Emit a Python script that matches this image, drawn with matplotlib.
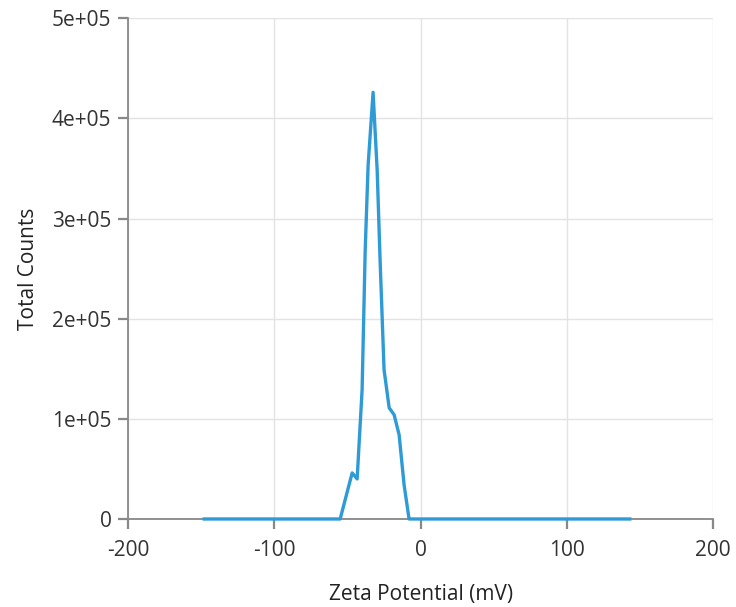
import matplotlib
matplotlib.use("Agg")
import matplotlib.pyplot as plt

# zeta potential distribution (mV) and total counts
zeta = [-148, -55.0, -46.8, -43.4, -40.0, -37.9, -35.9, -32.5, -29.7, -27.7,
        -25.0, -21.5, -18.1, -14.7, -11.3, -7.9, 143]
counts = [0, 0, 46000, 40000, 129000, 268000, 353000, 426000, 348000, 258000,
          149000, 111000, 104000, 84000, 34000, 0, 0]

x_ticks = [-200, -100, 0, 100, 200]
y_ticks = [0, 1e5, 2e5, 3e5, 4e5, 5e5]
y_labels = ["0", "1e+05", "2e+05", "3e+05", "4e+05", "5e+05"]

plt.rcParams['font.family'] = ['Open Sans', 'DejaVu Sans']
plt.rcParams['axes.unicode_minus'] = False

fig = plt.figure(figsize=(7.36, 6.07), dpi=100)
ax = fig.add_axes([0.174, 0.145, 0.795, 0.825])

ax.plot(zeta, counts, color="#2e9bd6", lw=2.4, solid_joinstyle="round",
        zorder=5, clip_on=False)

ax.set_xlim(-200, 200)
ax.set_ylim(0, 5e5)
ax.set_xticks(x_ticks)
ax.set_yticks(y_ticks)
ax.set_yticklabels(y_labels)
ax.grid(True, color="#e3e3e3", lw=1)
ax.set_axisbelow(True)

for s in ["top", "right"]:
    ax.spines[s].set_visible(False)
for s in ["left", "bottom"]:
    ax.spines[s].set_color("#888888")
    ax.spines[s].set_linewidth(1.3)
ax.tick_params(colors="#888888", length=7, width=1.6, labelsize=15,
               labelcolor="#333333")
ax.tick_params(axis="x", pad=8)
ax.tick_params(axis="y", pad=5)

ax.set_xlabel("Zeta Potential (mV)", fontsize=15, color="#222222", labelpad=17)
ax.set_ylabel("Total Counts", fontsize=15, color="#222222", labelpad=9)

fig.savefig("out.png", dpi=100)
